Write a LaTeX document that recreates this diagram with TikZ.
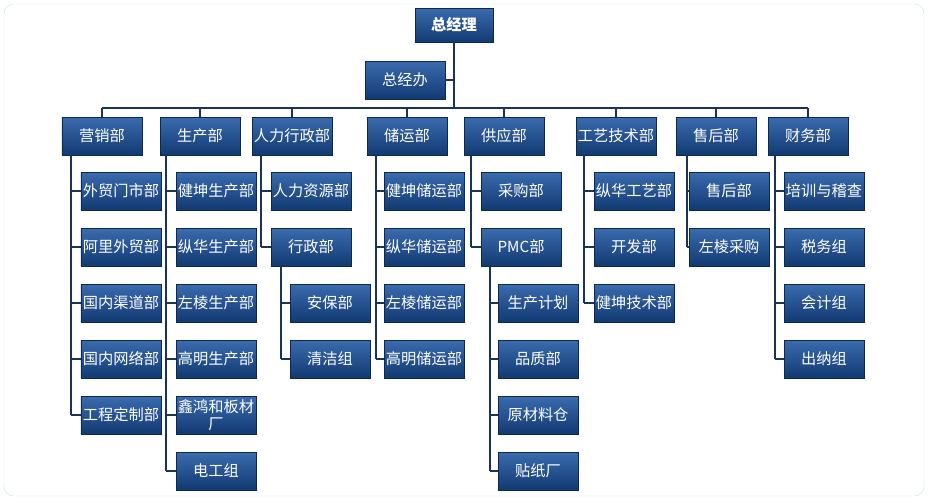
\documentclass[tikz,border=0pt]{standalone}
\usepackage{fontspec}
\newfontfamily\cjk{Noto Sans CJK SC}
\usepackage{tikz}
\usetikzlibrary{positioning}

\definecolor{boxtop}{HTML}{3A6BAE}
\definecolor{boxbot}{HTML}{123A72}
\definecolor{wire}{HTML}{1B3358}

\tikzset{
	unit/.style={draw=boxbot!70!black,thin,top color=boxtop,bottom color=boxbot,
		text=white,minimum width=2.4cm,minimum height=1.13cm,inner sep=1pt,
		font=\cjk\fontsize{13}{14}\selectfont,align=center,
		drop shadow/.style={}},
	boss/.style={unit,minimum width=2.34cm,minimum height=1.02cm,font=\cjk\bfseries\fontsize{13}{14}\selectfont},
	link/.style={draw=wire,line width=1.6pt}
}

\begin{document}
\begin{tikzpicture}[x=0.03cm,y=-0.03cm]
	\useasboundingbox (0,0) rectangle (928,500);
	\draw[draw=gray!40!cyan!30,rounded corners=8pt] (4,4) rectangle (924,496);

	% top
	\node[boss] (gm) at (454,25) {总经理};
	\node[unit] (office) at (405,80) {总经办};

	% departments
	\node[unit] (sales) at (102,136) {营销部};
	\node[unit] (prod) at (200,136) {生产部};
	\node[unit] (hr) at (292,136) {人力行政部};
	\node[unit] (store) at (407,136) {储运部};
	\node[unit] (supply) at (504,136) {供应部};
	\node[unit] (tech) at (616,136) {工艺技术部};
	\node[unit] (after) at (716,136) {售后部};
	\node[unit] (fin) at (808,136) {财务部};

	\coordinate (busL) at (102,108);
	\coordinate (busR) at (808,108);
	\draw[link] (gm.south) -- (gm.south |- busL);
	\draw[link] (office.east) -- (office.east -| gm.south);
	\draw[link] (busL) -- (busR);
	\foreach \d in {sales,prod,hr,store,supply,tech,after,fin}
		\draw[link] (\d.north) -- (\d.north |- busL);

	% children
	\foreach \n/\x/\y/\t in {
		s1/121/191/外贸门市部, s2/121/247/阿里外贸部, s3/121/303/国内渠道部,
		s4/121/359/国内网络部, s5/121/415/工程定制部,
		p1/216/191/健坤生产部, p2/216/247/纵华生产部, p3/216/303/左棱生产部,
		p4/216/359/高明生产部, p5/216/415/{鑫鸿和板材\\厂}, p6/216/471/电工组,
		h1/311/191/人力资源部, h2/311/247/行政部,
		h3/330/303/安保部, h4/330/359/清洁组,
		c1/424/191/健坤储运部, c2/424/247/纵华储运部, c3/424/303/左棱储运部,
		c4/424/359/高明储运部,
		g1/521/191/采购部, g2/521/247/PMC部,
		g3/538/303/生产计划, g4/538/359/品质部, g5/538/415/原材料仓, g6/538/471/贴纸厂,
		t1/634/191/纵华工艺部, t2/634/247/开发部, t3/634/303/健坤技术部,
		a1/729/191/售后部, a2/729/247/左棱采购,
		f1/824/191/培训与稽查, f2/824/247/税务组, f3/824/303/会计组, f4/824/359/出纳组}
		\node[unit] (\n) at (\x,\y) {\t};

	% connectors
	\foreach \d/\x/\last/\kids in {
		sales/71/s5/{s1,s2,s3,s4,s5}, prod/166/p6/{p1,p2,p3,p4,p5,p6},
		hr/261/h2/{h1,h2}, store/376/c4/{c1,c2,c3,c4},
		supply/471/g2/{g1,g2}, tech/584/t3/{t1,t2,t3},
		after/687/a2/{a1,a2}, fin/775/f4/{f1,f2,f3,f4}}
	{
		\draw[link] (\x,155) -- (\x,0 |- \last.west);
		\foreach \k in \kids
			\draw[link] (\k.west) -- (\k.west -| {(\x,0)});
	}
	\draw[link] (281,265) -- (281,0 |- h4.west);
	\draw[link] (h3.west) -- (h3.west -| {(281,0)});
	\draw[link] (h4.west) -- (h4.west -| {(281,0)});
	\draw[link] (490,265) -- (490,0 |- g6.west);
	\foreach \k in {g3,g4,g5,g6}
		\draw[link] (\k.west) -- (\k.west -| {(490,0)});
\end{tikzpicture}
\end{document}
